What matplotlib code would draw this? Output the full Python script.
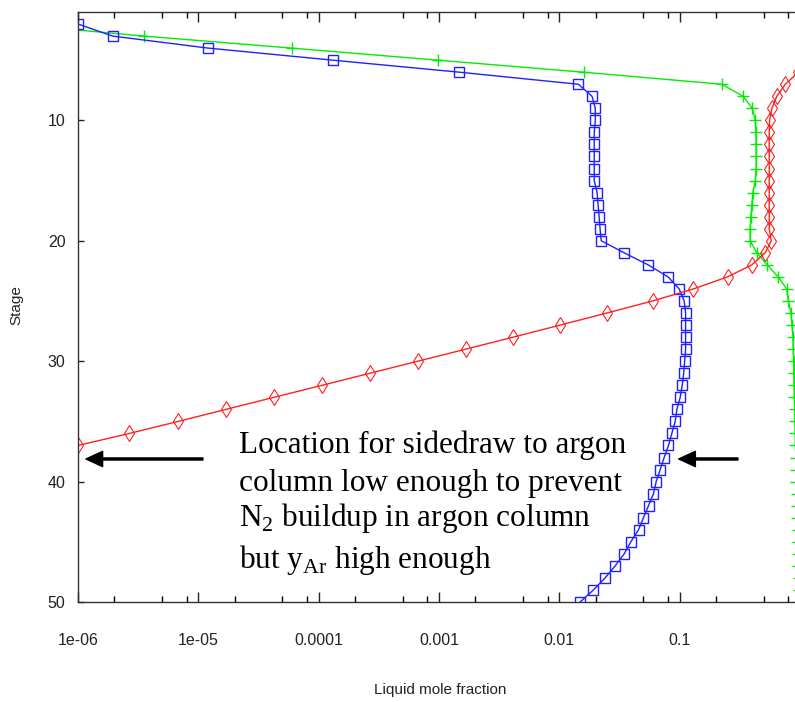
import numpy as np
import matplotlib
matplotlib.use('Agg')
import matplotlib.pyplot as plt
from matplotlib.ticker import FixedLocator, FixedFormatter, LogLocator, NullFormatter

# stage numbers and liquid mole fractions read from the profile
stages = np.arange(1, 51)

x_blue = [4e-7, 1.0e-6, 1.94e-6, 1.21e-5, 1.31e-4, 1.48e-3, 0.0144, 0.0187, 0.0199, 0.0199,
          0.0195, 0.0195, 0.0195, 0.0195, 0.0195, 0.0206, 0.0210, 0.0214, 0.0218, 0.0223,
          0.0346, 0.0547, 0.0802, 0.099, 0.109, 0.112, 0.112, 0.112, 0.112, 0.110,
          0.108, 0.105, 0.101, 0.0948, 0.0918, 0.0861, 0.0807, 0.0743, 0.0689, 0.0638,
          0.0606, 0.0551, 0.0500, 0.0455, 0.0393, 0.0346, 0.0291, 0.0240, 0.0192, 0.0149]

x_green = [2e-8, 2.8e-7, 3.54e-6, 5.98e-5, 9.78e-4, 0.0159, 0.224, 0.337, 0.401, 0.425,
           0.430, 0.432, 0.432, 0.432, 0.425, 0.406, 0.398, 0.391, 0.385, 0.385,
           0.438, 0.534, 0.659, 0.775, 0.80, 0.84, 0.857, 0.873, 0.878, 0.885,
           0.888, 0.892, 0.897, 0.903, 0.906, 0.912, 0.917, 0.924, 0.930, 0.935,
           0.940, 0.944, 0.950, 0.954, 0.960, 0.965, 0.970, 0.975, 0.980, 0.985]

x_red = [0.99999, 0.9999, 0.9999, 0.9998, 0.998, 0.97, 0.754, 0.642, 0.584, 0.558,
         0.555, 0.555, 0.555, 0.555, 0.555, 0.555, 0.555, 0.555, 0.555, 0.577,
         0.514, 0.398, 0.250, 0.130, 0.0595, 0.0248, 0.0102, 4.15e-3, 1.67e-3, 6.67e-4,
         2.67e-4, 1.07e-4, 4.26e-5, 1.70e-5, 6.82e-6, 2.67e-6, 1.0e-6]

xtick_vals = [1e-6, 1e-5, 1e-4, 1e-3, 1e-2, 1e-1]
xtick_labels = ['1e-06', '1e-05', '0.0001', '0.001', '0.01', '0.1']
ytick_vals = [10, 20, 30, 40, 50]

note_lines = ['Location for sidedraw to argon',
              'column low enough to prevent',
              r'N$_{\mathrm{2}}$ buildup in argon column',
              r'but y$_{\mathrm{Ar}}$ high enough']

plt.rcParams['mathtext.fontset'] = 'custom'
plt.rcParams['mathtext.rm'] = 'Liberation Serif'
label_font = ['Liberation Sans', 'DejaVu Sans']

fig = plt.figure(figsize=(7.95, 7.02), dpi=100)
# axes runs a little past the right edge of the picture, like the original screenshot
ax = fig.add_axes([78 / 795, 100 / 702, 722 / 795, 590 / 702])

ax.plot(x_green, stages, color='#00ee00', lw=1, marker='+', ms=9, mew=1)
ax.plot(x_blue, stages, color='#2020ff', lw=1, marker='s', ms=7, mfc='none', mew=1)
ax.plot(x_red, stages[:len(x_red)], color='#ff2020', lw=1, marker='d', ms=8, mfc='none', mew=0.8)

ax.set_xscale('log')
ax.set_xlim(1e-6, 1)
ax.set_ylim(50, 1)

ax.xaxis.set_major_locator(FixedLocator(xtick_vals))
ax.xaxis.set_major_formatter(FixedFormatter(xtick_labels))
ax.xaxis.set_minor_locator(LogLocator(base=10, subs=[2, 5, 8]))
ax.xaxis.set_minor_formatter(NullFormatter())
ax.set_yticks(ytick_vals)

ax.tick_params(axis='x', which='major', direction='in', top=True, length=7, width=1,
               pad=22, labelsize=11.5, colors='#222222')
ax.tick_params(axis='x', which='minor', direction='in', top=True, length=4, width=1)
ax.tick_params(axis='y', which='major', direction='in', length=4, width=1,
               pad=9, labelsize=11.5, colors='#222222')
for lab in ax.get_xticklabels() + ax.get_yticklabels():
    lab.set_family(label_font)

for side in ['left', 'bottom', 'top']:
    ax.spines[side].set_color('#333333')
    ax.spines[side].set_linewidth(1)
ax.spines['right'].set_visible(False)

ax.set_xlabel('Liquid mole fraction', family=label_font, fontsize=11, color='#222222')
ax.xaxis.set_label_coords(0.501, -0.137)
ax.set_ylabel('Stage', family=label_font, fontsize=11, color='#222222')
ax.yaxis.set_label_coords(-0.076, 0.503)

# annotation text, one line at a time
baselines = [0.2525, 0.188, 0.128, 0.0576]
for line, yb in zip(note_lines, baselines):
    ax.text(0.223, yb, line, transform=ax.transAxes, family='Liberation Serif',
            fontsize=22.5, va='baseline', ha='left')

arrow = dict(facecolor='black', edgecolor='black', width=1.5, headwidth=11, headlength=12, shrink=0)
ax.annotate('', xy=(0.011, 0.2424), xytext=(0.173, 0.2424), xycoords='axes fraction',
            textcoords='axes fraction', arrowprops=arrow)
ax.annotate('', xy=(0.832, 0.2424), xytext=(0.914, 0.2424), xycoords='axes fraction',
            textcoords='axes fraction', arrowprops=arrow)

fig.savefig('out.png', dpi=100)
